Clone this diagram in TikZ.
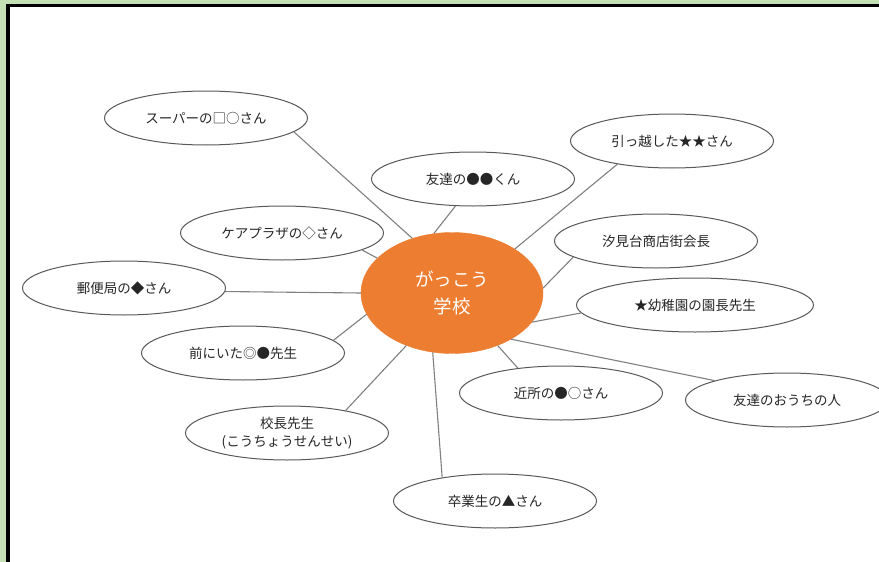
\documentclass[tikz,border=0pt]{standalone}
\usepackage{fontspec}
\newfontfamily\jp{Noto Sans CJK JP}
\usetikzlibrary{shapes.geometric}
\definecolor{framegreen}{HTML}{C5E0B4}
\definecolor{hub}{HTML}{ED7D31}
\definecolor{rim}{HTML}{595959}
\definecolor{wire}{HTML}{808080}
\definecolor{ink}{HTML}{262626}
\tikzset{
  bub/.style={ellipse, draw=rim, line width=1pt, fill=white, inner sep=0pt,
    minimum width=203pt, minimum height=54pt, text=ink, align=center,
    font=\jp\fontsize{13.5}{18}\selectfont},
  hubstyle/.style={ellipse, fill=hub, draw=hub, inner sep=0pt,
    minimum width=182pt, minimum height=121pt, text=white, align=center,
    font=\jp\fontsize{18.5}{27}\selectfont},
  link/.style={draw=wire, line width=1.1pt}
}
\begin{document}
\begin{tikzpicture}[x=1pt,y=-1pt]
\useasboundingbox (0,0) rectangle (879,562);
\clip (0,0) rectangle (879,562);
\fill[framegreen] (0,0) rectangle (879,562);
\fill[white] (10,7) rectangle (879,562);
\fill[black] (6,3.5) rectangle (10,562);
\fill[black] (6,3.5) rectangle (879,7);

\node[hubstyle] (c) at (452,293) {がっこう\\学校};

\node[bub] (sup) at (206,118) {スーパーの□○さん};
\node[bub] (fri) at (473,179) {友達の●●くん};
\node[bub] (mov) at (672,141) {引っ越した★★さん};
\node[bub] (car) at (282,233) {ケアプラザの◇さん};
\node[bub] (shi) at (656,241) {汐見台商店街会長};
\node[bub] (pos) at (124,288) {郵便局の◆さん};
\node[bub, minimum width=237pt] (kin) at (695,305) {★幼稚園の園長先生};
\node[bub] (mae) at (243,353) {前にいた◎●先生};
\node[bub] (pri) at (287,433) {校長先生\\(こうちょうせんせい)};
\node[bub] (grd) at (495,501) {卒業生の▲さん};
\node[bub] (nei) at (561,393) {近所の●○さん};
\node[bub] (hom) at (787,400) {友達のおうちの人};

\draw[link] (c.126) -- (sup.-9);
\draw[link] (c.107) -- (fri.-123);
\draw[link] (c.35) -- (mov.-157);
\draw[link] (c.155) -- (car.-12);
\draw[link] (c.3) -- (shi.-169);
\draw[link] (c.180) -- (pos.-2);
\draw[link] (c.-20) -- (kin.-176.5);
\draw[link] (c.-166) -- (mae.8);
\draw[link] (c.-131) -- (pri.21.5);
\draw[link] (c.-108.5) -- (grd.156);
\draw[link] (c.-49.5) -- (nei.150);
\draw[link] (c.-38.5) -- (hom.165);
\end{tikzpicture}
\end{document}
